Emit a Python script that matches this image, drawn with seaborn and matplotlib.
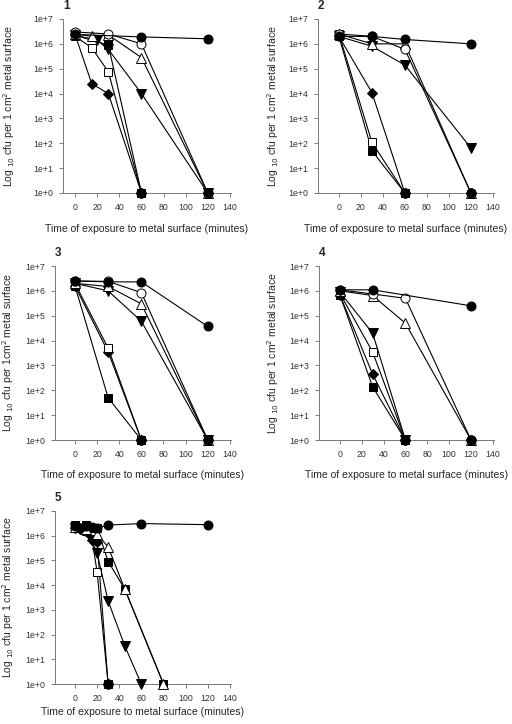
import numpy as np
import pandas as pd
import matplotlib
matplotlib.use("Agg")
import matplotlib.pyplot as plt
import seaborn as sns

sns.set_style("ticks")
plt.rcParams['font.family'] = ['Liberation Sans', 'DejaVu Sans']

# ---------------- data (cfu per cm2) ----------------
series_names = ["diamond", "filled_square", "open_square", "inv_triangle",
                "open_triangle", "open_circle", "filled_circle"]

# Panel 1
p1_t = {
    "filled_circle": [0, 60, 120],
    "open_circle": [0, 30, 60, 120],
    "open_triangle": [0, 15, 30, 60, 120],
    "inv_triangle": [0, 20, 30, 60, 120],
    "open_square": [0, 15, 30, 60],
    "filled_square": [0, 30, 60],
    "diamond": [0, 15, 30, 60],
}
p1_v = {
    "filled_circle": [2.4e6, 1.9e6, 1.6e6],
    "open_circle": [3.0e6, 2.5e6, 1.0e6, 1],
    "open_triangle": [2.5e6, 2.0e6, 2.3e6, 2.8e5, 1],
    "inv_triangle": [2.2e6, 1.4e6, 6.0e5, 1.0e4, 1],
    "open_square": [2.0e6, 7.0e5, 7.5e4, 1],
    "filled_square": [2.2e6, 9.0e5, 1],
    "diamond": [2.3e6, 2.5e4, 1.0e4, 1],
}
p1_limit = [60, 120]
# Panel 2
p2_t = {
    "filled_circle": [0, 30, 60, 120],
    "open_circle": [0, 30, 60, 120],
    "open_triangle": [0, 30, 60, 120],
    "inv_triangle": [0, 30, 60, 120],
    "open_square": [0, 30, 60],
    "filled_square": [0, 30, 60],
    "diamond": [0, 30, 60],
}
p2_v = {
    "filled_circle": [2.0e6, 2.0e6, 1.5e6, 1.0e6],
    "open_circle": [2.5e6, 2.0e6, 6.0e5, 1],
    "open_triangle": [2.5e6, 1.0e6, 1.0e6, 1],
    "inv_triangle": [2.0e6, 8.0e5, 1.4e5, 65],
    "open_square": [2.5e6, 110, 1],
    "filled_square": [2.0e6, 50, 1],
    "diamond": [2.0e6, 1.1e4, 1],
}
p2_limit = [60, 120]
# Panel 3
p3_t = {
    "filled_circle": [0, 30, 60, 120],
    "open_circle": [0, 30, 60, 120],
    "open_triangle": [0, 30, 60, 120],
    "inv_triangle": [0, 30, 60, 120],
    "open_square": [0, 30, 60],
    "filled_square": [0, 30, 60],
    "diamond": [0, 30, 60],
}
p3_v = {
    "filled_circle": [2.5e6, 2.3e6, 2.3e6, 3.7e4],
    "open_circle": [2.5e6, 2.4e6, 8.5e5, 1],
    "open_triangle": [2.0e6, 1.5e6, 3.0e5, 1],
    "inv_triangle": [2.0e6, 1.0e6, 6.0e4, 1],
    "open_square": [2.0e6, 5.0e3, 1],
    "filled_square": [1.6e6, 50, 1],
    "diamond": [1.6e6, 3.5e3, 1],
}
p3_limit = [60, 120]
# Panel 4
p4_t = {
    "filled_circle": [0, 30, 120],
    "open_circle": [0, 30, 60, 120],
    "open_triangle": [0, 30, 60, 120],
    "inv_triangle": [0, 30, 60],
    "open_square": [0, 30, 60],
    "filled_square": [0, 30, 60],
    "diamond": [0, 30, 60],
}
p4_v = {
    "filled_circle": [1.1e6, 1.1e6, 2.5e5],
    "open_circle": [1.1e6, 7.5e5, 5.0e5, 1],
    "open_triangle": [1.0e6, 6.5e5, 5.0e4, 1],
    "inv_triangle": [9.0e5, 2.0e4, 1],
    "open_square": [8.0e5, 3.5e3, 1],
    "filled_square": [7.0e5, 1.4e2, 1],
    "diamond": [7.0e5, 4.5e2, 1],
}
p4_limit = [60, 120]
# Panel 5
p5_t = {
    "filled_circle": [0, 5, 10, 15, 20, 30, 60, 120],
    "open_triangle": [0, 10, 20, 30, 45, 80],
    "inv_triangle": [0, 15, 20, 30, 45, 60],
    "open_square": [0, 10, 15, 20, 30],
    "filled_square": [0, 10, 20, 30, 45, 80],
    "diamond": [0, 5, 15, 20, 30],
}
p5_v = {
    "filled_circle": [2.5e6, 2.0e6, 2.5e6, 2.3e6, 2.0e6, 2.7e6, 3.1e6, 2.8e6],
    "open_triangle": [2.2e6, 1.8e6, 1.2e6, 3.5e5, 7.0e3, 1],
    "inv_triangle": [2.0e6, 6.5e5, 2.0e5, 2.3e3, 35, 1],
    "open_square": [2.5e6, 1.5e6, 1.0e6, 3.5e4, 1],
    "filled_square": [2.8e6, 2.6e6, 2.0e6, 9.0e4, 7.0e3, 1],
    "diamond": [2.0e6, 1.8e6, 6.5e5, 5.5e5, 1],
}
p5_limit = [30]

panel_titles = ["1", "2", "3", "4", "5"]
ylabels = [r"Log $_{10}$ cfu per 1 cm$^2$ metal surface",
           r"Log $_{10}$ cfu per 1 cm$^2$ metal surface",
           r"Log $_{10}$ cfu per 1cm$^2$ metal surface",
           r"Log $_{10}$ cfu per 1 cm$^2$ metal surface",
           r"Log $_{10}$ cfu per 1 cm$^2$ metal surface"]
xlabel = "Time of exposure to metal surface (minutes)"
xticks = [0, 20, 40, 60, 80, 100, 120, 140]
yticks = [1e0, 1e1, 1e2, 1e3, 1e4, 1e5, 1e6, 1e7]
ytick_labels = ["1e+0", "1e+1", "1e+2", "1e+3", "1e+4", "1e+5", "1e+6", "1e+7"]

styles = {
    "filled_circle": dict(marker="o", mfc="black", ms=6.5),
    "open_circle": dict(marker="o", mfc="white", ms=6.5),
    "open_triangle": dict(marker="^", mfc="white", ms=6.5),
    "inv_triangle": dict(marker="v", mfc="black", ms=6.5),
    "open_square": dict(marker="s", mfc="white", ms=5.5),
    "filled_square": dict(marker="s", mfc="black", ms=5.5),
    "diamond": dict(marker="D", mfc="black", ms=5.0),
}

W, H = 512, 724
# (axis left px, axis right px, top px (1e7), bottom px (1e0), xlim left,
#  ylabel right-edge px, xlabel pad)
geom = [
    (63, 231, 19, 193, -11, 17, 9),
    (318, 494, 19, 193, -19, 281, 9),
    (55, 231, 266, 440, -18, 16, 8),
    (319, 494, 266, 440, -19, 281, 8),
    (55, 231, 511, 684, -18, 16, 3),
]

fig = plt.figure(figsize=(W / 100, H / 100), dpi=100)
panels = [(p1_t, p1_v, p1_limit), (p2_t, p2_v, p2_limit), (p3_t, p3_v, p3_limit),
          (p4_t, p4_v, p4_limit), (p5_t, p5_v, p5_limit)]

for i, ((tt, vv, lim), g) in enumerate(zip(panels, geom)):
    l, r, t, b, xl, ylx, xpad = g
    ax = fig.add_axes([l / W, 1 - b / H, (r - l) / W, (b - t) / H])
    for name in series_names:
        if name not in tt:
            continue
        df = pd.DataFrame({"t": tt[name], "v": vv[name]})
        st = styles[name]
        sns.lineplot(data=df, x="t", y="v", ax=ax, color="black", lw=0.8,
                     marker=st["marker"], markerfacecolor=st["mfc"],
                     markeredgecolor="black", markeredgewidth=0.7,
                     markersize=st["ms"], sort=False, estimator=None,
                     clip_on=False, zorder=3)
    ldf = pd.DataFrame({"t": lim, "v": [1.0] * len(lim)})
    sns.scatterplot(data=ldf, x="t", y="v", ax=ax, color="black", marker="o",
                    s=45, edgecolor="black", linewidth=0.7, clip_on=False, zorder=4)
    ax.set_yscale("log")
    ax.set_ylim(1, 1e7)
    ax.set_xlim(xl, 141)
    ax.set_xticks(xticks)
    ax.set_xticklabels([str(x) for x in xticks], fontsize=6.3, color="#333333")
    ax.set_yticks(yticks)
    ax.set_yticklabels(ytick_labels, fontsize=6.3, color="#333333")
    ax.yaxis.set_minor_locator(matplotlib.ticker.NullLocator())
    ax.tick_params(length=3, width=0.6, color="#666666", pad=4)
    for s in ["top", "right"]:
        ax.spines[s].set_visible(False)
    for s in ["left", "bottom"]:
        ax.spines[s].set_linewidth(0.7)
        ax.spines[s].set_color("#777777")
    ax.set_xlabel(xlabel, fontsize=7.5, labelpad=xpad)
    ax.set_ylabel(ylabels[i], fontsize=7.5)
    ax.yaxis.set_label_coords(ylx / W, 1 - (t + b) / 2 / H, transform=fig.transFigure)
    ax.text(0.0, 1.04, panel_titles[i], transform=ax.transAxes,
            fontsize=8.5, fontweight="bold", ha="left", va="bottom")

fig.savefig("out.png", dpi=100, facecolor="white")
